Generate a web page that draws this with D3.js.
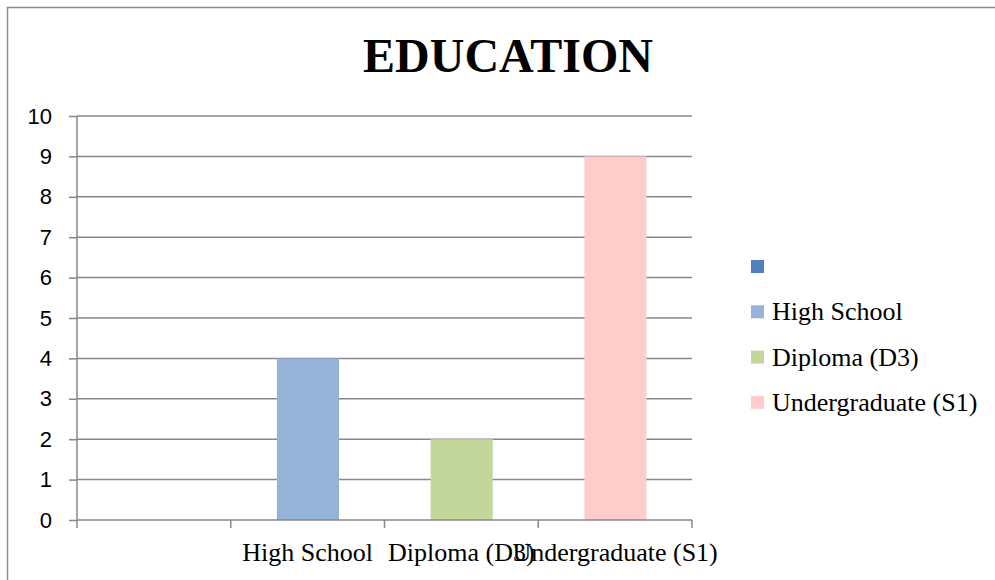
<!DOCTYPE html>
<html>
<head>
<meta charset="utf-8">
<script src="https://cdn.jsdelivr.net/npm/d3@7"></script>
<style>
  html, body { margin: 0; padding: 0; background: #fff; }
  svg { display: block; }
  .serif { font-family: "Liberation Serif", "Times New Roman", serif; }
  .sans { font-family: "Liberation Sans", Arial, sans-serif; }
</style>
</head>
<body>
<svg id="chart" width="995" height="580"></svg>
<script>
// Education levels and respondent counts
const categories = ["", "High School", "Diploma (D3)", "Undergraduate (S1)"];
const values = [0, 4, 2, 9];
const seriesNames = ["", "High School", "Diploma (D3)", "Undergraduate (S1)"];
const seriesColors = ["#4F81BD", "#95B3D7", "#C3D69B", "#FFCCCC"];
const yTicks = [0, 1, 2, 3, 4, 5, 6, 7, 8, 9, 10];
const titleText = "EDUCATION";

const svg = d3.select("#chart");
const W = 995, H = 580;
const plot = { left: 77, right: 692, top: 116, bottom: 520 };

// Outer chart frame
svg.append("rect")
  .attr("x", 7.5).attr("y", 7.5)
  .attr("width", W + 10).attr("height", H + 10)
  .attr("fill", "none").attr("stroke", "#8c8c8c").attr("stroke-width", 1.5);

// Title
svg.append("text")
  .attr("class", "serif")
  .attr("x", 508).attr("y", 72)
  .attr("text-anchor", "middle")
  .attr("font-weight", "bold")
  .attr("font-size", 48)
  .attr("fill", "#000")
  .text(titleText);

const x = d3.scaleBand().domain(categories).range([plot.left, plot.right]).padding(0);
const y = d3.scaleLinear().domain([0, 10]).range([plot.bottom, plot.top]);

// Horizontal gridlines
svg.append("g").selectAll("line").data(yTicks.filter(t => t > 0)).join("line")
  .attr("x1", plot.left).attr("x2", plot.right)
  .attr("y1", d => y(d)).attr("y2", d => y(d))
  .attr("stroke", "#878787").attr("stroke-width", 1.5);

// Bars: each category carries its own series colour
const bw = x.bandwidth();
svg.append("g").selectAll("rect").data(categories).join("rect")
  .attr("x", (d) => x(d) + bw * 0.3)
  .attr("width", bw * 0.404)
  .attr("y", (d, i) => y(values[i]))
  .attr("height", (d, i) => y(0) - y(values[i]))
  .attr("fill", (d, i) => seriesColors[i]);

// Y axis
const yAxis = svg.append("g")
  .attr("transform", `translate(${plot.left},0)`)
  .call(d3.axisLeft(y).tickValues(yTicks).tickSize(8).tickPadding(17).tickFormat(d3.format("d")));
yAxis.attr("font-family", null).attr("font-size", null);
yAxis.select(".domain").attr("stroke", "#878787").attr("stroke-width", 1.5)
  .attr("d", `M0,${plot.top}V${plot.bottom}`);
yAxis.selectAll(".tick line").attr("stroke", "#878787").attr("stroke-width", 1.5);
yAxis.selectAll(".tick text")
  .attr("class", "sans")
  .attr("font-size", 22).attr("fill", "#000");

// X axis baseline with boundary ticks
const xAxis = svg.append("g");
xAxis.append("line")
  .attr("x1", plot.left).attr("x2", plot.right)
  .attr("y1", plot.bottom).attr("y2", plot.bottom)
  .attr("stroke", "#878787").attr("stroke-width", 1.5);
const bounds = categories.map(c => x(c)).concat([x(categories[categories.length - 1]) + bw]);
xAxis.selectAll("line.tk").data(bounds).join("line").attr("class", "tk")
  .attr("x1", d => d).attr("x2", d => d)
  .attr("y1", plot.bottom).attr("y2", plot.bottom + 8)
  .attr("stroke", "#878787").attr("stroke-width", 1.5);
xAxis.selectAll("text").data(categories).join("text")
  .attr("class", "serif")
  .attr("x", d => x(d) + bw / 2)
  .attr("y", 561)
  .attr("text-anchor", "middle")
  .attr("font-size", 26).attr("fill", "#000")
  .text(d => d);

// Legend
const lg = svg.append("g").selectAll("g").data(seriesNames).join("g")
  .attr("transform", (d, i) => `translate(751, ${267 + i * 45.3})`);
lg.append("rect").attr("x", 0).attr("y", -7).attr("width", 13).attr("height", 13)
  .attr("fill", (d, i) => seriesColors[i]);
lg.append("text").attr("class", "serif").attr("x", 21).attr("y", 8)
  .attr("font-size", 26).attr("fill", "#000")
  .text(d => d);
</script>
</body>
</html>
